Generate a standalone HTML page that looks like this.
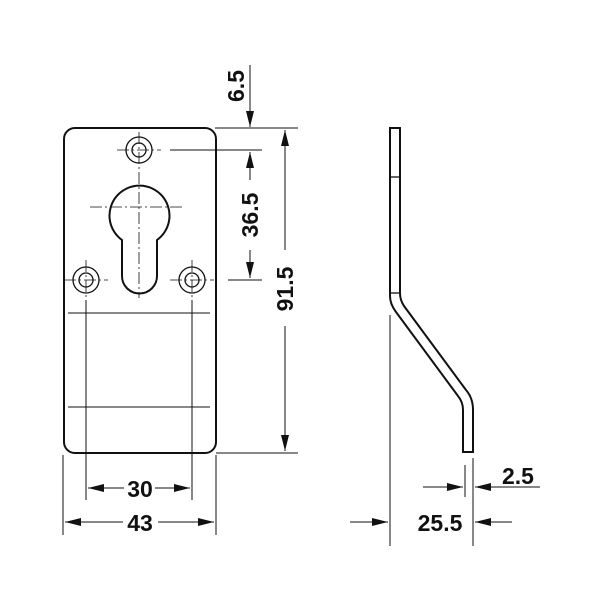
<!DOCTYPE html>
<html><head><style>body{margin:0;background:#fff}svg{display:block}</style></head><body>
<svg width="600" height="600" viewBox="0 0 600 600" xmlns="http://www.w3.org/2000/svg">
<defs>
<marker id="a" viewBox="0 0 16 8" refX="16" refY="4" markerWidth="16" markerHeight="8" markerUnits="userSpaceOnUse" orient="auto-start-reverse"><path d="M0,0 L16,4 L0,8 z" fill="#111"/></marker>
</defs>
<g fill="none" stroke="#111">
<rect x="64" y="128" width="152" height="325" rx="11" stroke-width="2"/>
<line x1="68" y1="313" x2="210" y2="313" stroke-width="1"/>
<line x1="68" y1="407" x2="210" y2="407" stroke-width="1"/>
<g stroke-width="1.3">
<circle cx="139" cy="150" r="13"/><circle cx="139" cy="150" r="7"/>
<circle cx="86" cy="280" r="13"/><circle cx="86" cy="280" r="7"/>
<circle cx="192" cy="280" r="13"/><circle cx="192" cy="280" r="7"/>
</g>
<path d="M122,240 A30,30 0 1 1 157,240 L157,276 A17.5,17.5 0 0 1 122,276 Z" stroke-width="2"/>
<g stroke-width="0.8" stroke-dasharray="12,3,2,3">
<line x1="139" y1="132" x2="139" y2="298"/>
<line x1="117" y1="150" x2="161" y2="150"/>
<line x1="90" y1="207" x2="184" y2="207"/>
<line x1="64" y1="280" x2="108" y2="280"/>
<line x1="170" y1="280" x2="214" y2="280"/>
<line x1="86" y1="260" x2="86" y2="300"/>
<line x1="192" y1="260" x2="192" y2="300"/>
</g>
<g stroke-width="1">
<line x1="86" y1="300" x2="86" y2="500"/>
<line x1="192" y1="300" x2="192" y2="500"/>
<line x1="63" y1="455" x2="63" y2="535"/>
<line x1="216" y1="455" x2="216" y2="535"/>
<line x1="215" y1="128" x2="298" y2="128"/>
<line x1="170" y1="150" x2="262" y2="150"/>
<line x1="228" y1="280" x2="262" y2="280"/>
<line x1="216" y1="453" x2="298" y2="453"/>
<line x1="88" y1="488" x2="124" y2="488" marker-start="url(#a)"/>
<line x1="155" y1="488" x2="190" y2="488" marker-end="url(#a)"/>
<line x1="65" y1="522" x2="123" y2="522" marker-start="url(#a)"/>
<line x1="158" y1="522" x2="214" y2="522" marker-end="url(#a)"/>
<line x1="250" y1="65" x2="250" y2="127" marker-end="url(#a)"/>
<line x1="250" y1="152" x2="250" y2="180" marker-start="url(#a)"/>
<line x1="250" y1="250" x2="250" y2="278" marker-end="url(#a)"/>
<line x1="285" y1="130" x2="285" y2="250" marker-start="url(#a)"/>
<line x1="285" y1="326" x2="285" y2="451" marker-end="url(#a)"/>
<line x1="390" y1="315" x2="390" y2="546"/>
<line x1="473" y1="458" x2="473" y2="546"/>
<line x1="465" y1="465" x2="465" y2="497"/>
<line x1="423" y1="487" x2="463" y2="487" marker-end="url(#a)"/>
<line x1="475" y1="487" x2="540" y2="487" marker-start="url(#a)"/>
<line x1="350" y1="522" x2="388" y2="522" marker-end="url(#a)"/>
<line x1="475" y1="522" x2="512" y2="522" marker-start="url(#a)"/>
</g>
<path d="M390,128 L400,128 L400,293 Q400,300 404,306 L466,390 Q473,398 473,410 L473,452 L463,452 L463,410 Q463,402 458,396 L396,312 Q390,304 390,296 Z" stroke-width="2"/>
<line x1="390" y1="177" x2="400" y2="177" stroke-width="1.3"/>
<line x1="390" y1="293" x2="400" y2="293" stroke-width="1.3"/>
</g>
<g font-family="Liberation Sans, sans-serif" font-weight="bold" font-size="23" fill="#111" text-anchor="middle">
<text x="140" y="497">30</text>
<text x="140" y="531">43</text>
<text x="440" y="531">25.5</text>
<text x="518" y="484">2.5</text>
<text transform="translate(244,86) rotate(-90)">6.5</text>
<text transform="translate(258,215) rotate(-90)">36.5</text>
<text transform="translate(293,289) rotate(-90)">91.5</text>
</g>
</svg>
</body></html>
